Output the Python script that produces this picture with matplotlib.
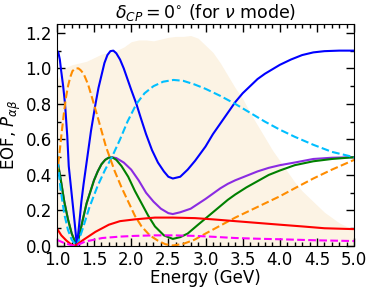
import matplotlib
matplotlib.use('Agg')
import matplotlib.pyplot as plt
from matplotlib.ticker import MultipleLocator

# --- data ---
# shaded flux-like band (upper edge)
E_band = [1.0, 1.05, 1.1, 1.2, 1.3, 1.4, 1.5, 1.6, 1.7, 1.8, 1.9, 2.0, 2.1, 2.2, 2.3,
          2.4, 2.5, 2.6, 2.7, 2.8, 2.9, 3.0, 3.1, 3.2, 3.3, 3.4, 3.5, 3.6, 3.7, 3.8,
          3.9, 4.0, 4.1, 4.2, 4.3, 4.4, 4.5, 4.6, 4.7, 4.8, 4.9, 5.0]
band = [0.93, 0.97, 1.00, 1.02, 1.03, 1.04, 1.06, 1.08, 1.09, 1.10, 1.12, 1.15, 1.16, 1.16, 1.155,
        1.165, 1.175, 1.18, 1.18, 1.185, 1.17, 1.13, 1.09, 1.03, 0.96, 0.89, 0.83, 0.75, 0.68, 0.61,
        0.54, 0.48, 0.42, 0.36, 0.31, 0.27, 0.23, 0.19, 0.16, 0.13, 0.11, 0.10]

# blue solid (EOF)
E_blue = [1.0, 1.02, 1.04, 1.06, 1.085, 1.11, 1.14, 1.16, 1.2, 1.24, 1.27, 1.3, 1.33, 1.36, 1.4,
          1.46, 1.52, 1.56, 1.6, 1.64, 1.68, 1.72, 1.76, 1.8, 1.85, 1.9, 1.95, 2.0, 2.07, 2.13,
          2.2, 2.28, 2.36, 2.44, 2.5, 2.56, 2.66, 2.76, 2.86, 3.0, 3.1, 3.2, 3.3, 3.4, 3.5,
          3.6, 3.7, 3.8, 3.9, 4.0, 4.15, 4.3, 4.45, 4.6, 4.8, 5.0]
blue = [1.10, 1.09, 1.05, 0.98, 0.90, 0.80, 0.62, 0.45, 0.29, 0.13, 0.0, 0.12, 0.25, 0.35, 0.47,
        0.65, 0.80, 0.89, 0.96, 1.03, 1.075, 1.097, 1.10, 1.085, 1.05, 1.0, 0.94, 0.88, 0.80, 0.72,
        0.63, 0.54, 0.47, 0.42, 0.39, 0.38, 0.39, 0.43, 0.48, 0.56, 0.63, 0.69, 0.75, 0.81, 0.86,
        0.90, 0.94, 0.97, 0.995, 1.02, 1.05, 1.075, 1.09, 1.097, 1.10, 1.10]

# cyan dashed
E_cyan = [1.0, 1.02, 1.05, 1.1, 1.15, 1.2, 1.27, 1.35, 1.44, 1.55, 1.65, 1.74, 1.85, 1.95,
          2.07, 2.18, 2.3, 2.43, 2.57, 2.7, 2.85, 3.0, 3.2, 3.4, 3.6, 3.8, 4.0, 4.2, 4.45,
          4.7, 5.0]
cyan = [0.54, 0.44, 0.32, 0.18, 0.09, 0.035, 0.0, 0.10, 0.22, 0.34, 0.43, 0.50, 0.60, 0.70,
        0.80, 0.86, 0.90, 0.925, 0.935, 0.93, 0.91, 0.885, 0.845, 0.80, 0.75, 0.70, 0.655, 0.615,
        0.57, 0.53, 0.50]

# orange dashed
E_orange = [1.0, 1.03, 1.06, 1.09, 1.12, 1.15, 1.18, 1.21, 1.25, 1.29, 1.32, 1.36, 1.42, 1.47,
            1.56, 1.66, 1.78, 1.87, 1.96, 2.05, 2.14, 2.25, 2.36, 2.46, 2.56, 2.7, 2.85, 3.0,
            3.2, 3.4, 3.6, 3.8, 4.0, 4.2, 4.45, 4.7, 5.0]
orange = [0.40, 0.50, 0.62, 0.73, 0.83, 0.90, 0.95, 0.985, 1.0, 1.0, 0.99, 0.97, 0.91, 0.84,
          0.71, 0.56, 0.42, 0.33, 0.25, 0.17, 0.11, 0.06, 0.03, 0.01, 0.003, 0.012, 0.035, 0.07,
          0.115, 0.16, 0.20, 0.24, 0.28, 0.325, 0.38, 0.43, 0.485]

# green solid
E_green = [1.0, 1.05, 1.1, 1.15, 1.2, 1.27, 1.35, 1.4, 1.5, 1.55, 1.6, 1.65, 1.7, 1.75, 1.8,
           1.87, 1.96, 2.05, 2.14, 2.23, 2.32, 2.44, 2.56, 2.66, 2.76, 2.9, 3.0, 3.1, 3.2, 3.3,
           3.4, 3.55, 3.7, 3.85, 4.0, 4.2, 4.45, 4.7, 5.0]
green = [0.50, 0.38, 0.25, 0.15, 0.07, 0.0, 0.15, 0.24, 0.37, 0.42, 0.46, 0.485, 0.498, 0.498, 0.485,
         0.45, 0.39, 0.31, 0.24, 0.17, 0.11, 0.06, 0.04, 0.05, 0.07, 0.12, 0.155, 0.19, 0.225, 0.26,
         0.29, 0.33, 0.365, 0.40, 0.425, 0.455, 0.477, 0.49, 0.50]

# purple solid
E_purple = [1.0, 1.05, 1.1, 1.15, 1.2, 1.27, 1.35, 1.4, 1.5, 1.55, 1.6, 1.65, 1.7, 1.75, 1.8,
            1.9, 2.0, 2.1, 2.2, 2.3, 2.4, 2.5, 2.56, 2.66, 2.8, 3.0, 3.1, 3.2, 3.3, 3.4,
            3.55, 3.7, 3.85, 4.0, 4.2, 4.45, 4.7, 5.0]
purple = [0.50, 0.38, 0.25, 0.15, 0.07, 0.0, 0.15, 0.24, 0.37, 0.42, 0.46, 0.485, 0.498, 0.499, 0.495,
          0.47, 0.43, 0.37, 0.30, 0.25, 0.21, 0.185, 0.18, 0.19, 0.21, 0.265, 0.295, 0.325, 0.35, 0.37,
          0.395, 0.42, 0.44, 0.455, 0.47, 0.49, 0.497, 0.50]

# red solid
E_red = [1.0, 1.06, 1.13, 1.2, 1.25, 1.34, 1.43, 1.52, 1.61, 1.7, 1.85, 2.05, 2.32, 2.56,
         2.86, 3.1, 3.4, 3.7, 4.0, 4.31, 4.6, 5.0]
red = [0.10, 0.06, 0.03, 0.006, 0.002, 0.03, 0.055, 0.08, 0.10, 0.12, 0.14, 0.15, 0.16, 0.16,
       0.157, 0.15, 0.14, 0.13, 0.12, 0.11, 0.10, 0.095]

# magenta dashed
E_mag = [1.0, 1.11, 1.2, 1.25, 1.38, 1.61, 1.85, 2.05, 2.32, 2.56, 2.86, 3.1, 3.4, 3.7, 4.0,
         4.5, 5.0]
mag = [0.035, 0.015, 0.004, 0.0, 0.025, 0.045, 0.053, 0.057, 0.06, 0.06, 0.057, 0.052, 0.045,
       0.041, 0.038, 0.032, 0.028]

# --- plot ---
fig = plt.figure(figsize=(3.74, 2.91), dpi=100)
ax = fig.add_axes([0.152, 0.1546, 0.795, 0.763])

ax.fill_between(E_band, 0, band, color='#fcf3e4', lw=0, zorder=0)

ax.plot(E_purple, purple, color='blueviolet', lw=1.5)
ax.plot(E_green, green, color='green', lw=1.5)
ax.plot(E_blue, blue, color='blue', lw=1.5)
ax.plot(E_cyan, cyan, color='deepskyblue', lw=1.5, ls='--')
ax.plot(E_orange, orange, color='darkorange', lw=1.5, ls='--')
ax.plot(E_red, red, color='red', lw=1.5)
ax.plot(E_mag, mag, color='magenta', lw=1.5, ls='--')

ax.set_xlim(1.0, 5.0)
ax.set_ylim(0, 1.25)
ax.xaxis.set_major_locator(MultipleLocator(0.5))
ax.xaxis.set_minor_locator(MultipleLocator(0.1))
ax.yaxis.set_major_locator(MultipleLocator(0.2))
ax.yaxis.set_minor_locator(MultipleLocator(0.1))
ax.tick_params(which='both', direction='in', top=True, right=True, labelsize=12)
ax.tick_params(which='major', length=6, width=1)
ax.tick_params(which='minor', length=3, width=1)

ax.set_title(r'$\delta_{CP} = 0^{\circ}$ (for $\nu$ mode)', fontsize=12.5, pad=4)
ax.set_xlabel('Energy (GeV)', fontsize=12, labelpad=0)
ax.set_ylabel(r'EOF, $P_{\alpha\beta}$', fontsize=12, labelpad=2)

fig.savefig('out.png', dpi=100)
